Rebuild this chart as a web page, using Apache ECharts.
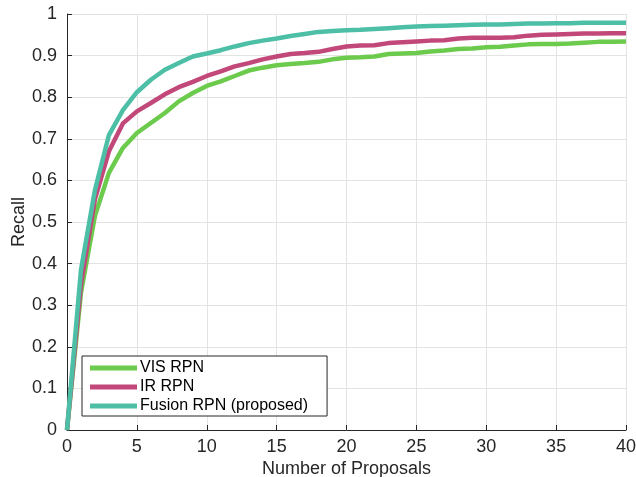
<!DOCTYPE html>
<html>
<head>
<meta charset="utf-8">
<script src="https://cdn.jsdelivr.net/npm/echarts@6/dist/echarts.min.js"></script>
<style>
  html, body { margin: 0; padding: 0; background: #fff; }
  #main { width: 636px; height: 477px; }
</style>
</head>
<body>
<div id="main"></div>
<script>
// number of proposals (x)
var proposals = [];
for (var i = 0; i <= 40; i++) proposals.push(i);

// recall values
var visRecall = [0, 0.33, 0.515, 0.618, 0.678, 0.714, 0.738, 0.762, 0.79, 0.81,
  0.827, 0.838, 0.851, 0.864, 0.871, 0.877, 0.88, 0.882, 0.885, 0.891,
  0.895, 0.896, 0.898, 0.904, 0.905, 0.906, 0.91, 0.912, 0.916, 0.917,
  0.92, 0.921, 0.924, 0.927, 0.928, 0.928, 0.929, 0.931, 0.933, 0.933, 0.934];
var irRecall = [0, 0.35, 0.555, 0.67, 0.737, 0.766, 0.786, 0.807, 0.824, 0.837,
  0.851, 0.862, 0.874, 0.882, 0.891, 0.898, 0.904, 0.906, 0.909, 0.916,
  0.922, 0.924, 0.925, 0.93, 0.932, 0.934, 0.936, 0.937, 0.941, 0.943,
  0.943, 0.943, 0.944, 0.948, 0.95, 0.951, 0.952, 0.953, 0.953, 0.954, 0.954];
var fusionRecall = [0, 0.385, 0.577, 0.709, 0.769, 0.812, 0.842, 0.866, 0.882, 0.898,
  0.905, 0.913, 0.922, 0.93, 0.936, 0.941, 0.947, 0.952, 0.957, 0.959,
  0.961, 0.962, 0.964, 0.966, 0.968, 0.97, 0.971, 0.972, 0.973, 0.974,
  0.975, 0.975, 0.976, 0.977, 0.977, 0.978, 0.978, 0.979, 0.979, 0.979, 0.979];

var seriesNames = ['VIS RPN', 'IR RPN', 'Fusion RPN (proposed)'];
var seriesColors = ['#6ccb4c', '#c2487a', '#4cbfa6'];

function pairs(ys) {
  return proposals.map(function (x, k) { return [x, ys[k]]; });
}

var font = 'Helvetica, Arial, "Liberation Sans", sans-serif';
var dark = '#262626';

var chart = echarts.init(document.getElementById('main'));
chart.setOption({
  animation: false,
  grid: { left: 67, right: 10, top: 14, bottom: 47, outerBoundsMode: 'none' },
  legend: {
    orient: 'vertical',
    left: 82,
    top: 356,
    data: seriesNames,
    icon: 'rect',
    itemWidth: 47,
    itemHeight: 5,
    itemGap: 3,
    padding: [4, 19, 2, 8],
    backgroundColor: '#fff',
    borderColor: dark,
    borderWidth: 1,
    borderRadius: 0,
    textStyle: { fontFamily: font, fontSize: 16, color: '#000', padding: [0, 0, 0, -2], lineHeight: 16 }
  },
  xAxis: {
    type: 'value',
    min: 0, max: 40, interval: 5,
    name: 'Number of Proposals',
    nameLocation: 'middle',
    nameGap: 30,
    nameMoveOverlap: false,
    nameTextStyle: { fontFamily: font, fontSize: 18, color: dark },
    axisLine: { lineStyle: { color: dark, width: 1 } },
    axisTick: { inside: true, length: 5, lineStyle: { color: dark } },
    axisLabel: { fontFamily: font, fontSize: 18, color: dark, margin: 8 },
    splitLine: { show: true, lineStyle: { color: '#e3e3e3', width: 1 } }
  },
  yAxis: {
    type: 'value',
    min: 0, max: 1, interval: 0.1,
    name: 'Recall',
    nameLocation: 'middle',
    nameGap: 39,
    nameMoveOverlap: false,
    nameTextStyle: { fontFamily: font, fontSize: 18, color: dark },
    axisLine: { show: true, lineStyle: { color: dark, width: 1 } },
    axisTick: { show: true, inside: true, length: 5, lineStyle: { color: dark } },
    axisLabel: {
      fontFamily: font, fontSize: 18, color: dark, margin: 10,
      formatter: function (v) { return String(Math.round(v * 10) / 10); }
    },
    splitLine: { show: true, lineStyle: { color: '#e3e3e3', width: 1 } }
  },
  series: [visRecall, irRecall, fusionRecall].map(function (ys, k) {
    return {
      name: seriesNames[k],
      type: 'line',
      data: pairs(ys),
      showSymbol: false,
      symbol: 'none',
      color: seriesColors[k],
      lineStyle: { width: 4.5, color: seriesColors[k] },
      z: 2 + k
    };
  })
});
</script>
</body>
</html>
